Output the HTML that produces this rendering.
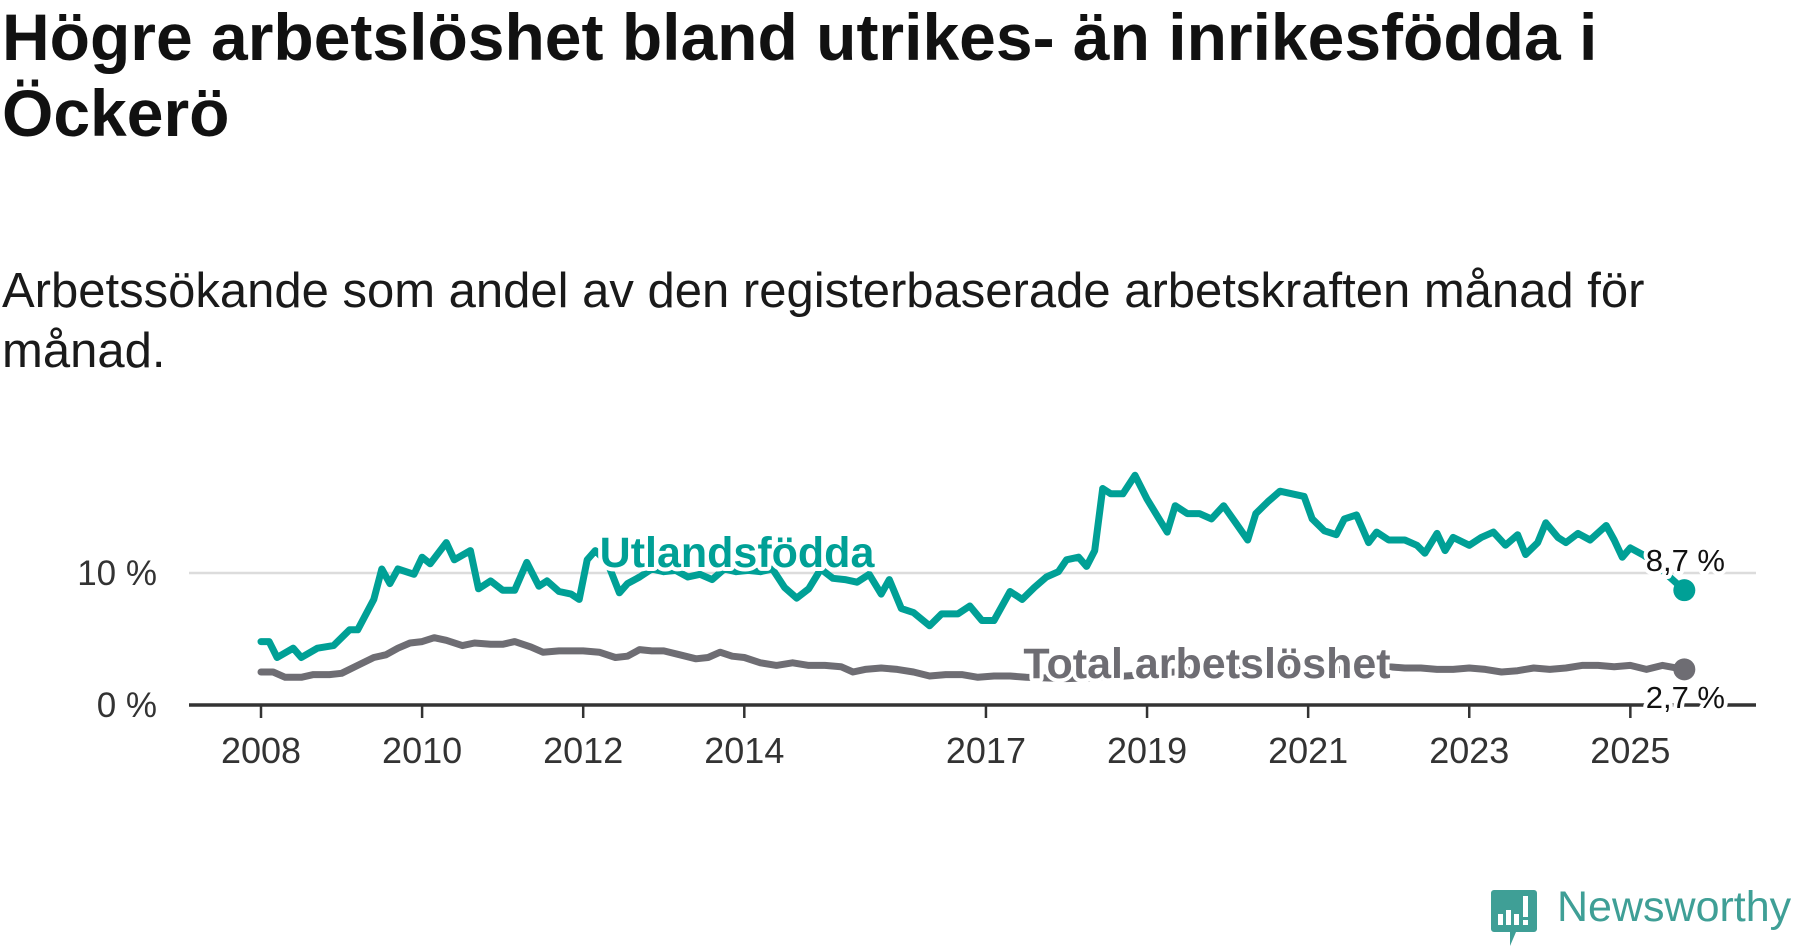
<!DOCTYPE html>
<html><head><meta charset="utf-8">
<style>
html,body{margin:0;padding:0;background:#fff;}
body{width:1800px;height:948px;overflow:hidden;position:relative;font-family:"Liberation Sans","DejaVu Sans",sans-serif;}
#title{position:absolute;left:2px;top:-1px;width:1660px;font-size:66px;font-weight:bold;line-height:76px;color:#111;margin:0;}
#subtitle{position:absolute;left:2px;top:261px;width:1690px;font-size:49px;line-height:60px;color:#1a1a1a;margin:0;}
svg{position:absolute;left:0;top:0;}
</style></head>
<body>
<h1 id="title">Högre arbetslöshet bland utrikes- än inrikesfödda i Öckerö</h1>
<p id="subtitle">Arbetssökande som andel av den registerbaserade arbetskraften månad för månad.</p>
<svg id="chart" width="1800" height="948"></svg>
<script>
const foreignDates=[2008.0,2008.1,2008.2,2008.4,2008.5,2008.7,2008.9,2009.1,2009.2,2009.4,2009.5,2009.6,2009.7,2009.9,2010.0,2010.1,2010.3,2010.4,2010.6,2010.7,2010.85,2011.0,2011.15,2011.3,2011.45,2011.55,2011.7,2011.85,2011.95,2012.05,2012.15,2012.3,2012.45,2012.55,2012.7,2012.85,2013.0,2013.15,2013.3,2013.45,2013.6,2013.75,2013.9,2014.05,2014.2,2014.35,2014.5,2014.65,2014.8,2014.95,2015.1,2015.25,2015.4,2015.55,2015.7,2015.8,2015.95,2016.1,2016.3,2016.45,2016.65,2016.8,2016.95,2017.1,2017.3,2017.45,2017.6,2017.75,2017.9,2018.0,2018.15,2018.25,2018.35,2018.45,2018.55,2018.7,2018.85,2019.0,2019.15,2019.25,2019.35,2019.5,2019.65,2019.8,2019.95,2020.1,2020.25,2020.35,2020.5,2020.65,2020.8,2020.95,2021.05,2021.2,2021.35,2021.45,2021.6,2021.75,2021.85,2022.0,2022.2,2022.35,2022.45,2022.6,2022.7,2022.8,2023.0,2023.15,2023.3,2023.45,2023.6,2023.7,2023.85,2023.95,2024.1,2024.2,2024.35,2024.5,2024.7,2024.8,2024.9,2025.0,2025.15,2025.3,2025.45,2025.67];
const foreignValues=[4.8,4.8,3.6,4.3,3.6,4.3,4.5,5.7,5.7,8.0,10.3,9.2,10.3,9.9,11.2,10.7,12.3,11.0,11.7,8.8,9.4,8.7,8.7,10.8,9.0,9.4,8.6,8.4,8.0,11.0,11.7,10.8,8.5,9.2,9.7,10.3,10.1,10.2,9.7,9.9,9.5,10.3,10.1,10.2,10.1,10.3,8.9,8.1,8.8,10.3,9.6,9.5,9.3,9.9,8.4,9.5,7.3,7.0,6.0,6.9,6.9,7.5,6.4,6.4,8.6,8.0,8.9,9.7,10.1,11.0,11.2,10.5,11.7,16.4,16.0,16.0,17.4,15.6,14.1,13.1,15.1,14.5,14.5,14.1,15.1,13.8,12.5,14.5,15.4,16.2,16.0,15.8,14.1,13.2,12.9,14.1,14.4,12.3,13.1,12.5,12.5,12.1,11.5,13.0,11.7,12.7,12.1,12.7,13.1,12.1,12.9,11.4,12.3,13.8,12.7,12.3,13.0,12.5,13.6,12.5,11.2,11.9,11.4,10.8,9.9,8.7];
const totalDates=[2008.0,2008.15,2008.3,2008.5,2008.65,2008.85,2009.0,2009.2,2009.4,2009.55,2009.7,2009.85,2010.0,2010.15,2010.3,2010.5,2010.65,2010.85,2011.0,2011.15,2011.35,2011.5,2011.7,2011.85,2012.0,2012.2,2012.4,2012.55,2012.7,2012.85,2013.0,2013.2,2013.4,2013.55,2013.7,2013.85,2014.0,2014.2,2014.4,2014.6,2014.8,2015.0,2015.2,2015.35,2015.5,2015.7,2015.9,2016.1,2016.3,2016.5,2016.7,2016.9,2017.1,2017.3,2017.5,2018.0,2018.5,2019.0,2019.5,2020.0,2020.5,2021.0,2021.5,2022.0,2022.2,2022.4,2022.6,2022.8,2023.0,2023.2,2023.4,2023.6,2023.8,2024.0,2024.2,2024.4,2024.6,2024.8,2025.0,2025.2,2025.4,2025.67];
const totalValues=[2.5,2.5,2.1,2.1,2.3,2.3,2.4,3.0,3.6,3.8,4.3,4.7,4.8,5.1,4.9,4.5,4.7,4.6,4.6,4.8,4.4,4.0,4.1,4.1,4.1,4.0,3.6,3.7,4.2,4.1,4.1,3.8,3.5,3.6,4.0,3.7,3.6,3.2,3.0,3.2,3.0,3.0,2.9,2.5,2.7,2.8,2.7,2.5,2.2,2.3,2.3,2.1,2.2,2.2,2.1,2.0,2.1,2.3,2.6,2.8,2.7,2.6,2.7,2.9,2.8,2.8,2.7,2.7,2.8,2.7,2.5,2.6,2.8,2.7,2.8,3.0,3.0,2.9,3.0,2.7,3.0,2.7];
const xTickYears=[2008,2010,2012,2014,2017,2019,2021,2023,2025];
const yTickValues=[0,10];
const yTickLabels=["0 %","10 %"];

const NS="http://www.w3.org/2000/svg";
const svg=document.getElementById('chart');
const X=y=>261+(y-2008)*80.55;
const Y=v=>705-v*13.2;
function mk(tag,attrs,parent){const e=document.createElementNS(NS,tag);for(const k in attrs)e.setAttribute(k,attrs[k]);(parent||svg).appendChild(e);return e;}

yTickValues.forEach((v,i)=>{
  if(v>0){const g=mk('line',{x1:189,x2:1756,y1:Y(v),y2:Y(v),stroke:'#dcdcdc','stroke-width':2.5});
  
  }
  const t=mk('text',{x:157,y:Y(v)+12,'text-anchor':'end','font-size':35,fill:'#333','font-family':'Liberation Sans, sans-serif'});
  t.textContent=yTickLabels[i];
  
  
});
const ax=mk('line',{x1:189,x2:1756,y1:705,y2:705,stroke:'#333','stroke-width':3.5});


xTickYears.forEach(yr=>{
  const tk=mk('line',{x1:X(yr),x2:X(yr),y1:705,y2:718,stroke:'#333','stroke-width':2.5});
  
  
  const t=mk('text',{x:X(yr),y:763,'text-anchor':'middle','font-size':36,fill:'#333','font-family':'Liberation Sans, sans-serif'});
  t.textContent=yr;
  
  
});
function line(dates,vals,color,name){
  const d=dates.map((t,i)=>(i?'L':'M')+X(t).toFixed(1)+','+Y(vals[i]).toFixed(1)).join('');
  const p=mk('path',{d:d,fill:'none',stroke:color,'stroke-width':7,'stroke-linejoin':'round','stroke-linecap':'round'});
  
  
  const n=dates.length-1;
  const c=mk('circle',{cx:X(dates[n]),cy:Y(vals[n]),r:11,fill:color});
  
  
}
line(totalDates,totalValues,'#6e6d73','total-line');
line(foreignDates,foreignValues,'#00a096','foreign-born-line');

function label(txt,x,y,size,color,weight,anchor,name){
  const t=mk('text',{x:x,y:y,'font-size':size,fill:color,'font-weight':weight,'text-anchor':anchor,stroke:'#fff','stroke-width':8,'paint-order':'stroke','stroke-linejoin':'round','font-family':'Liberation Sans, sans-serif'});
  t.textContent=txt;
  
  
}
label('Utlandsfödda',737,567,43,'#00a096','bold','middle','series-label-foreign');
label('Total arbetslöshet',1207,678,43,'#6e6d73','bold','middle','series-label-total');
label('8,7 %',1725,571,31,'#111','normal','end','end-value-foreign');
label('2,7 %',1725,708,31,'#111','normal','end','end-value-total');
</script>
<svg width="50" height="60" style="left:1490px;top:888px">
<path d="M4 2h40a3 3 0 0 1 3 3v36a3 3 0 0 1-3 3H26l-6 14v-14H4a3 3 0 0 1-3-3V5a3 3 0 0 1 3-3z" fill="#3f9f96"/>
<rect x="8" y="26" width="5" height="11" fill="#fff"/><rect x="16" y="22" width="5" height="15" fill="#fff"/><rect x="24" y="26" width="5" height="11" fill="#fff"/><rect x="33" y="8" width="5" height="21" fill="#fff"/><rect x="33" y="32" width="5" height="5" fill="#fff"/>
</svg>
<div style="position:absolute;left:1557px;top:883px;font-size:43px;color:#3f9f96;font-family:'Liberation Sans',sans-serif;">Newsworthy</div>
</body></html>
